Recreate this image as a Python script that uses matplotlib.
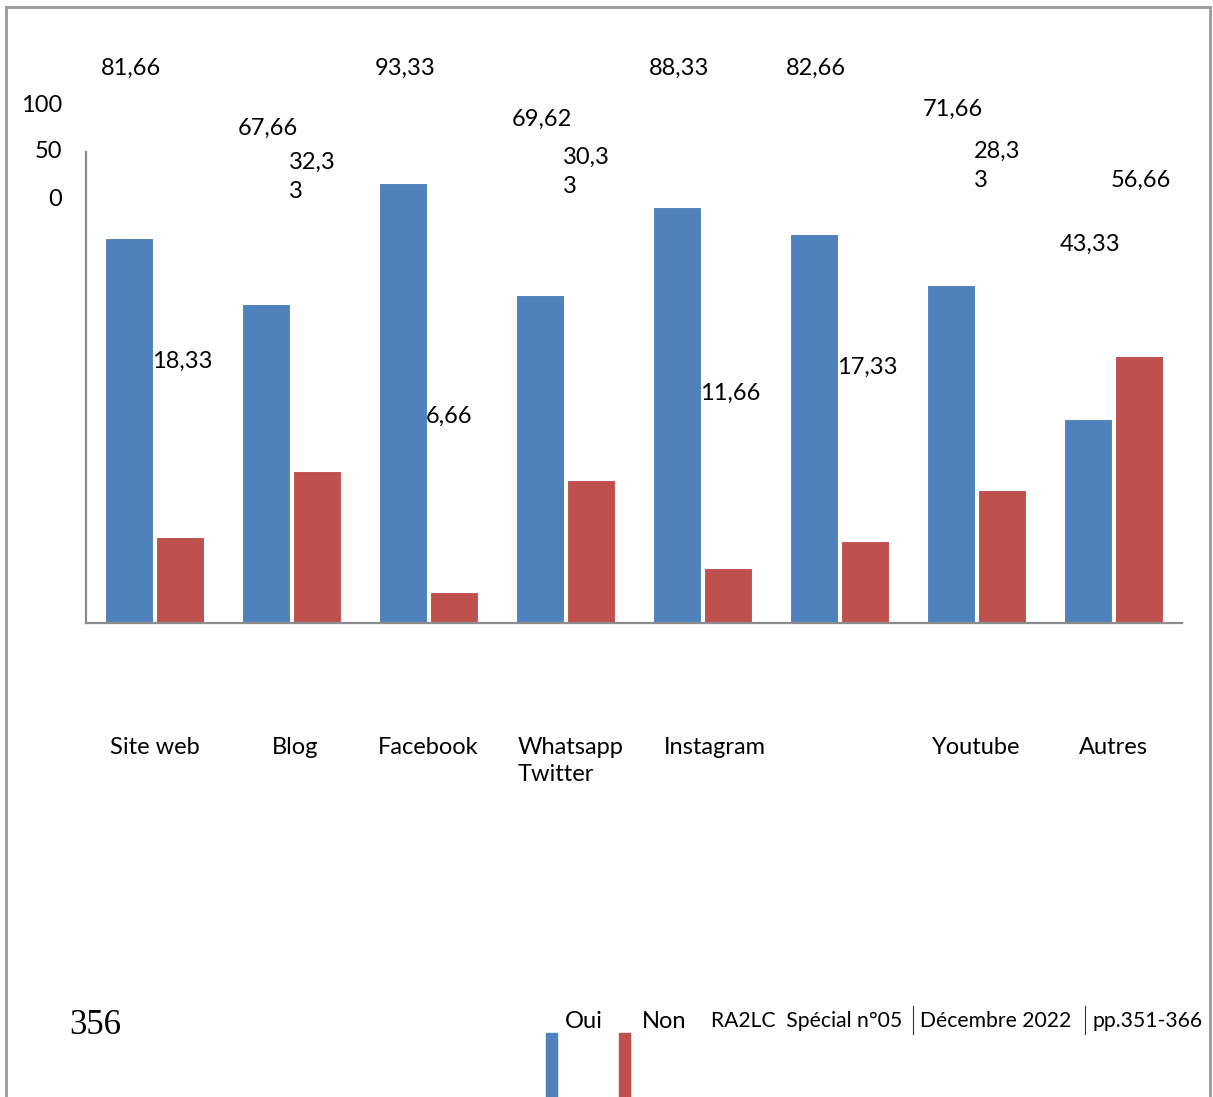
"""Oui / Non bar chart, page 356."""

import matplotlib

matplotlib.use("Agg")

import matplotlib.pyplot as plt
import numpy as np
from matplotlib.patches import Rectangle
from matplotlib.transforms import blended_transform_factory

# data
categories = ["Site web", "Blog", "Facebook", "Whatsapp", "Instagram",
              "Twitter", "Youtube", "Autres"]
oui = [81.66, 67.66, 93.33, 69.62, 88.33, 82.66, 71.66, 43.33]
non = [18.33, 32.33, 6.66, 30.33, 11.66, 17.33, 28.33, 56.66]
series_names = ["Oui", "Non"]
y_tick_labels = ["100", "50", "0"]
footer = ["RA2LC  Spécial n°05", "Décembre 2022", "pp.351-366"]
page_number = "356"

BLUE = "#4F81BD"
RED = "#C0504D"
FONT = "Lato"
FS = 17

W, H = 1213, 1097
fig = plt.figure(figsize=(W / 100, H / 100), dpi=100)


def fx(px):
    return px / W


def fy(py):
    return 1 - py / H


ax = fig.add_axes([fx(86), fy(623), fx(1182) - fx(86), fy(152) - fy(623)])
x = np.arange(len(categories))
width = 0.35
ax.bar(x - 0.183, oui, width, color=BLUE, edgecolor="white", linewidth=0.8)
ax.bar(x + 0.183, non, width, color=RED, edgecolor="white", linewidth=0.8)
ax.set_xlim(-0.5, len(categories) - 0.5)
ax.set_ylim(0, 100)
for side in ["top", "right"]:
    ax.spines[side].set_visible(False)
for side in ["left", "bottom"]:
    ax.spines[side].set_color("#8c8c8c")
    ax.spines[side].set_linewidth(1.6)
ax.set_xticks([])
ax.set_yticks([])

# data labels, scattered as in the source page
trans = blended_transform_factory(ax.transData, fig.transFigure)
oui_label_y = [68, 128, 68, 119, 68, 68, 109, 244]
non_label_y = [361, 177, 416, 172, 393, 367, 166, 180]
wrapped = {1, 3, 6}
for i, (a, b) in enumerate(zip(oui, non)):
    ax.text(i - 0.394, fy(oui_label_y[i]), f"{a:.2f}".replace(".", ","),
            transform=trans, ha="left", va="center", fontsize=FS,
            family=FONT)
    s = f"{b:.2f}".replace(".", ",")
    if i in wrapped:
        s = s[:-1] + "\n" + s[-1]
    ax.text(i - 0.02, fy(non_label_y[i]), s, transform=trans, ha="left",
            va="center", fontsize=FS, family=FONT, linespacing=1.45)

# misplaced y tick labels
for lab, py in zip(y_tick_labels, [105, 152, 200]):
    fig.text(fx(62), fy(py), lab, ha="right", va="center", fontsize=FS,
             family=FONT)

# category labels
label_shift = {"Blog": 0.03, "Instagram": 0.09}
for i, cat in enumerate(categories):
    if cat == "Twitter":
        continue
    if cat == "Whatsapp":
        ax.text(i - 0.35, fy(761), "Whatsapp\nTwitter", transform=trans,
                ha="left", va="center", fontsize=FS, family=FONT,
                linespacing=1.3)
    else:
        ax.text(i + label_shift.get(cat, 0), fy(747), cat, transform=trans,
                ha="center", va="center", fontsize=FS, family=FONT)

# page frame
fig.add_artist(plt.Line2D([fx(6), fx(6)], [0, fy(7)], color="#9a9a9a", lw=2))
fig.add_artist(plt.Line2D([fx(6), fx(1210)], [fy(7), fy(7)], color="#9a9a9a", lw=2))
fig.add_artist(plt.Line2D([fx(1210), fx(1210)], [0, fy(7)], color="#9a9a9a", lw=2))

# legend
for name, color, px, lx in zip(series_names, [BLUE, RED], [546, 619],
                               [565, 642]):
    fig.add_artist(Rectangle((fx(px), 0), fx(11), fy(1033), color=color,
                             transform=fig.transFigure))
    fig.text(fx(lx), fy(1021), name, ha="left", va="center",
             fontsize=FS, family=FONT)

# footer
fig.text(fx(69), fy(1025), page_number, ha="left", va="center", fontsize=25,
         family="Liberation Serif")
for txt, px in zip(footer, [711, 920, 1092]):
    fig.text(fx(px), fy(1021), txt, ha="left", va="center", fontsize=15.2,
             family=FONT)
for px in [913, 1085]:
    fig.add_artist(plt.Line2D([fx(px), fx(px)], [fy(1034), fy(1006)],
                              color="#333333", lw=0.8))

fig.savefig("out.png", dpi=100)
plt.close(fig)
